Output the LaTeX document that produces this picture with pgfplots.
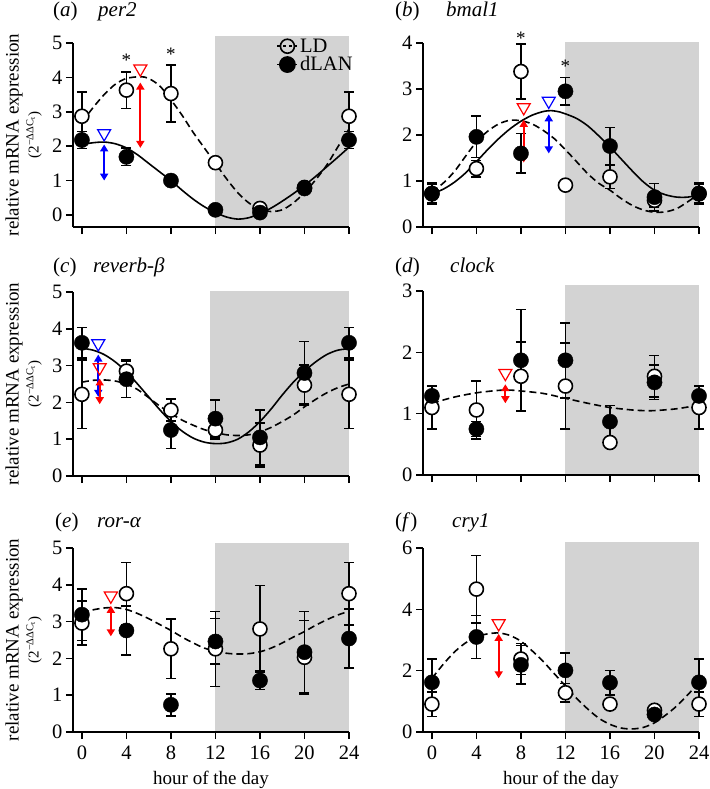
\documentclass[border=0pt]{standalone}
\usepackage{fontspec}
\setmainfont{Liberation Serif}
\usepackage{pgfplots}
\usepackage{pgfplotstable}
\pgfplotsset{compat=1.18}
\usetikzlibrary{arrows.meta}
\definecolor{shade}{RGB}{211,211,211}

\pgfplotstableread{
x ld lde dl dle
0 2.87 0.70 2.18 0.25
4 3.63 0.53 1.69 0.25
8 3.53 0.83 1.00 0.08
12 1.52 0.10 0.15 0.05
16 0.19 0.08 0.07 0.05
20 0.80 0.10 0.77 0.10
24 2.87 0.70 2.18 0.25
}\tA
\pgfplotstableread{
x ld lde dl dle
0 0.72 0.20 0.73 0.23
4 1.27 0.18 1.96 0.45
8 3.38 0.60 1.60 0.43
12 0.91 0.05 2.95 0.30
16 1.09 0.25 1.76 0.40
20 0.58 0.15 0.65 0.30
24 0.72 0.20 0.73 0.23
}\tB
\pgfplotstableread{
x ld lde dl dle
0 2.22 0.93 3.62 0.42
4 2.85 0.30 2.63 0.50
8 1.79 0.30 1.25 0.50
12 1.25 0.25 1.56 0.50
16 0.84 0.60 1.05 0.75
20 2.47 0.55 2.80 0.85
24 2.22 0.93 3.62 0.42
}\tC
\pgfplotstableread{
x ld lde dl dle
0 1.10 0.35 1.29 0.15
4 1.06 0.47 0.75 0.12
8 1.61 0.56 1.87 0.83
12 1.45 0.70 1.87 0.61
16 0.53 0.05 0.87 0.26
20 1.61 0.34 1.51 0.28
24 1.10 0.35 1.29 0.15
}\tD
\pgfplotstableread{
x ld lde dl dle
0 2.96 0.60 3.19 0.70
4 3.76 0.85 2.76 0.67
8 2.26 0.81 0.74 0.30
12 2.26 1.02 2.46 0.62
16 2.80 1.18 1.40 0.25
20 2.03 1.00 2.17 1.10
24 3.76 0.85 2.54 0.80
}\tE
\pgfplotstableread{
x ld lde dl dle
0 0.91 0.40 1.62 0.76
4 4.66 1.10 3.10 0.70
8 2.38 0.50 2.19 0.63
12 1.28 0.30 2.01 0.57
16 0.91 0.10 1.61 0.40
20 0.71 0.15 0.57 0.10
24 0.91 0.40 1.62 0.76
}\tF

\newcommand{\fs}{\fontsize{19}{22}\selectfont}
\newcommand{\ft}{\fontsize{20.5}{23}\selectfont}
\newcommand{\fh}{\fontsize{21}{24}\selectfont}
\pgfplotsset{
  panel/.style={
    scale only axis, width=276pt, height=184pt,
    axis lines*=left, axis on top,
    axis line style={line width=1.6pt, black},
    every tick/.style={line width=1.6pt, black},
    tick align=outside, major tick length=7pt,
    xmin=-0.8, xmax=24, xtick={0,4,...,24},
    xticklabels={},
    clip=false,
    tick label style={font=\ft},
    xticklabel style={yshift=-3pt},
    /pgf/number format/assume math mode=true,
  },
  ylab/.style={
    ylabel={relative mRNA expression\\[-2pt]{\fontsize{15}{16}\selectfont (2\textsuperscript{−ΔΔC\textsubscript{t}})}},
    ylabel style={align=center, font=\fs, at={(axis description cs:-0.179,0.5)}, anchor=center},
  },
  xlab/.style={
    xticklabels={0,4,8,12,16,20,24},
    xlabel={hour of the day},
    xlabel style={font=\fs, yshift=-5pt},
  },
  errb/.style={only marks, mark=none, forget plot,
    error bars/.cd, y dir=both, y explicit,
    error bar style={line width=1.6pt, black, solid},
    error mark options={line width=1.6pt, black, mark size=5pt, rotate=90}},
  ldm/.style={only marks, mark=*, mark size=7pt, forget plot,
    mark options={fill=white, draw=black, line width=1.6pt, solid}},
  dlm/.style={only marks, mark=*, mark size=7.6pt, forget plot,
    mark options={fill=black, draw=black, solid}},
  ldc/.style={smooth, line width=1.6pt, dash pattern=on 7pt off 4pt, black, mark=none, forget plot},
  dlc/.style={smooth, line width=1.6pt, black, mark=none, forget plot},
  rarr/.style={red, line width=1.8pt, mark=none, forget plot,
    {Triangle[length=7pt,width=8pt]}-{Triangle[length=7pt,width=8pt]}},
  barr/.style={blue, line width=1.8pt, mark=none, forget plot,
    {Triangle[length=7pt,width=8pt]}-{Triangle[length=7pt,width=8pt]}},
  rtri/.style={only marks, mark=triangle, mark size=7.5pt, forget plot,
    mark options={rotate=180, draw=red, line width=1.2pt}},
  btri/.style={only marks, mark=triangle, mark size=7.5pt, forget plot,
    mark options={rotate=180, draw=blue, line width=1.2pt}},
  shadeplot/.style={fill=shade, draw=none, mark=none, forget plot},
}

\begin{document}
\begin{tikzpicture}
\useasboundingbox (0,0) rectangle (709pt,-789pt);

% titles
\node[anchor=base west, font=\fh, inner sep=0] at (53pt,-17pt) {(\textit{a})};
\node[anchor=base west, font=\fh, inner sep=0] at (98pt,-17pt) {\textit{per2}};
\node[anchor=base west, font=\fh, inner sep=0] at (395pt,-17pt) {(\textit{b})};
\node[anchor=base west, font=\fh, inner sep=0] at (446pt,-17pt) {\textit{bmal1}};
\node[anchor=base west, font=\fh, inner sep=0] at (53pt,-272pt) {(\textit{c})};
\node[anchor=base west, font=\fh, inner sep=0] at (93pt,-272pt) {\textit{reverb-β}};
\node[anchor=base west, font=\fh, inner sep=0] at (395pt,-272pt) {(\textit{d})};
\node[anchor=base west, font=\fh, inner sep=0] at (450pt,-272pt) {\textit{clock}};
\node[anchor=base west, font=\fh, inner sep=0] at (55pt,-527pt) {(\textit{e})};
\node[anchor=base west, font=\fh, inner sep=0] at (97pt,-527pt) {\textit{ror-α}};
\node[anchor=base west, font=\fh, inner sep=0] at (395pt,-527pt) {(\textit{f})};
\node[anchor=base west, font=\fh, inner sep=0] at (452pt,-527pt) {\textit{cry1}};

% ---------- (a) per2
\begin{axis}[panel, ylab, at={(73pt,-227pt)}, anchor=south west,
  ymin=-0.35, ymax=5, ytick={0,1,...,5},
  legend style={at={(0.737,1.035)}, anchor=north west, draw=none, fill=none,
    font=\ft, row sep=-1pt, inner sep=0pt},
  legend cell align=left,
  legend image code/.code={\draw[mark repeat=2,mark phase=2,#1] plot coordinates {(0pt,0pt) (10pt,0pt) (20pt,0pt)};}]
\addplot[shadeplot] coordinates {(12,-0.35) (24,-0.35) (24,5.2) (12,5.2)} -- cycle;
\addplot[errb] table[x=x, y=ld, y error=lde] {\tA};
\addplot[errb] table[x=x, y=dl, y error=dle] {\tA};
\addplot[ldc] coordinates {(0,2.7) (1,3.12) (2,3.5) (3,3.8) (4,3.97) (5.25,4.02) (6,3.97) (7,3.75) (8,3.35) (9,2.9) (10,2.4) (11,1.95) (12,1.5) (13,1.05) (14,0.65) (15,0.35) (16,0.17) (17,0.1) (18,0.15) (19,0.35) (20,0.65) (21,1.02) (22,1.45) (23,1.98) (24,2.5)};
\addplot[dlc] coordinates {(0,2.05) (1,2.1) (2,2.12) (3,2.07) (4,1.95) (5,1.75) (6,1.5) (7,1.25) (8,1.0) (9,0.72) (10,0.46) (11,0.24) (12,0.07) (13,-0.06) (14,-0.12) (15,-0.08) (16,0.04) (17,0.2) (18,0.4) (19,0.62) (20,0.86) (21,1.12) (22,1.4) (23,1.68) (24,1.97)};
\addplot[ldm] table[x=x, y=ld] {\tA};
\addplot[dlm] table[x=x, y=dl] {\tA};
\addplot[rarr] coordinates {(5.25,1.95) (5.25,3.85)};
\addplot[barr] coordinates {(2,1.0) (2,2.05)};
\addplot[rtri] coordinates {(5.25,4.25)};
\addplot[btri] coordinates {(2,2.37)};
\node[font=\fs] at (axis cs:4,4.5) {*};
\node[font=\fs] at (axis cs:8,4.67) {*};
\addlegendimage{line width=1.6pt, dash pattern=on 3pt off 3pt, mark=o, mark size=7pt, mark options={solid, line width=1.6pt}}
\addlegendentry{LD}
\addlegendimage{line width=1.6pt, mark=*, mark size=7.6pt}
\addlegendentry{dLAN}
\end{axis}

% ---------- (b) bmal1
\begin{axis}[panel, at={(423pt,-227pt)}, anchor=south west,
  ymin=0, ymax=4, ytick={0,1,...,4}]
\addplot[shadeplot] coordinates {(12,0) (24,0) (24,4.02) (12,4.02)} -- cycle;
\addplot[errb] table[x=x, y=ld, y error=lde] {\tB};
\addplot[errb] table[x=x, y=dl, y error=dle] {\tB};
\addplot[ldc] coordinates {(0,0.76) (1,0.95) (2,1.2) (3,1.53) (4,1.85) (5,2.08) (6,2.24) (7,2.32) (8,2.31) (9,2.24) (10,2.1) (11,1.92) (12,1.68) (13,1.42) (14,1.16) (15,0.95) (16,0.8) (17,0.62) (18,0.47) (19,0.37) (20,0.32) (21,0.33) (22,0.4) (23,0.55) (24,0.72)};
\addplot[dlc] coordinates {(0,0.72) (1,0.82) (2,0.97) (3,1.17) (4,1.42) (5,1.68) (6,1.92) (7,2.13) (8,2.3) (9,2.43) (10,2.51) (10.7,2.53) (11.5,2.5) (12,2.46) (13,2.36) (14,2.2) (15,1.98) (16,1.74) (17,1.48) (18,1.22) (19,0.98) (20,0.8) (21,0.7) (22,0.65) (23,0.65) (24,0.7)};
\addplot[ldm] table[x=x, y=ld] {\tB};
\addplot[dlm] table[x=x, y=dl] {\tB};
\addplot[rarr] coordinates {(8.25,1.4) (8.25,2.33)};
\addplot[barr] coordinates {(10.5,1.6) (10.5,2.45)};
\addplot[rtri] coordinates {(8.25,2.6)};
\addplot[btri] coordinates {(10.5,2.74)};
\node[font=\fs] at (axis cs:8,4.1) {*};
\node[font=\fs] at (axis cs:12,3.5) {*};
\end{axis}

% ---------- (c) reverb-beta
\begin{axis}[panel, ylab, at={(73pt,-476pt)}, anchor=south west,
  ymin=0, ymax=5, ytick={0,1,...,5}]
\addplot[shadeplot] coordinates {(11.5,0) (24,0) (24,5.02) (11.5,5.02)} -- cycle;
\addplot[errb] table[x=x, y=ld, y error=lde] {\tC};
\addplot[errb] table[x=x, y=dl, y error=dle] {\tC};
\addplot[ldc] coordinates {(0,2.55) (1,2.6) (2,2.61) (3,2.58) (4,2.5) (5,2.35) (6,2.13) (7,1.9) (8,1.7) (9,1.52) (10,1.38) (11,1.26) (12,1.18) (13,1.12) (14,1.1) (15,1.12) (16,1.2) (17,1.32) (18,1.48) (19,1.66) (20,1.88) (21,2.08) (22,2.26) (23,2.4) (24,2.5)};
\addplot[dlc] coordinates {(0,3.47) (1,3.42) (2,3.3) (3,3.1) (4,2.83) (5,2.5) (6,2.15) (7,1.8) (8,1.48) (9,1.22) (10,1.03) (11,0.92) (12,0.88) (13,0.9) (14,1.0) (15,1.2) (16,1.48) (17,1.82) (18,2.2) (19,2.55) (20,2.85) (21,3.1) (22,3.3) (23,3.42) (24,3.46)};
\addplot[ldm] table[x=x, y=ld] {\tC};
\addplot[dlm] table[x=x, y=dl] {\tC};
\addplot[barr] coordinates {(1.47,2.15) (1.47,3.3)};
\addplot[rarr] coordinates {(1.6,1.95) (1.6,2.65)};
\addplot[btri] coordinates {(1.47,3.6)};
\addplot[rtri] coordinates {(1.6,2.95)};
\end{axis}

% ---------- (d) clock
\begin{axis}[panel, at={(423pt,-475pt)}, anchor=south west,
  ymin=0, ymax=3, ytick={0,1,2,3}]
\addplot[shadeplot] coordinates {(12,0) (24,0) (24,3.09) (12,3.09)} -- cycle;
\addplot[errb] table[x=x, y=ld, y error=lde] {\tD};
\addplot[errb] table[x=x, y=dl, y error=dle] {\tD};
\addplot[ldc] coordinates {(0,1.17) (2,1.27) (4,1.34) (6,1.38) (7,1.385) (8,1.37) (10,1.33) (12,1.25) (14,1.17) (16,1.1) (18,1.06) (19,1.05) (20,1.05) (22,1.08) (24,1.14)};
\addplot[ldm] table[x=x, y=ld] {\tD};
\addplot[dlm] table[x=x, y=dl] {\tD};
\addplot[rarr] coordinates {(6.6,1.17) (6.6,1.48)};
\addplot[rtri] coordinates {(6.6,1.66)};
\end{axis}

% ---------- (e) ror-alpha
\begin{axis}[panel, ylab, xlab, at={(73pt,-732pt)}, anchor=south west,
  ymin=0, ymax=5, ytick={0,1,...,5}]
\addplot[shadeplot] coordinates {(12,0) (24,0) (24,5.14) (12,5.14)} -- cycle;
\addplot[errb] table[x=x, y=ld, y error=lde] {\tE};
\addplot[errb] table[x=x, y=dl, y error=dle] {\tE};
\addplot[ldc] coordinates {(0,3.25) (1,3.32) (2,3.37) (3,3.38) (4,3.33) (5,3.22) (6,3.08) (7,2.92) (8,2.76) (9,2.58) (10,2.42) (11,2.28) (12,2.2) (13,2.14) (14,2.12) (15,2.13) (16,2.18) (17,2.28) (18,2.42) (19,2.58) (20,2.73) (21,2.9) (22,3.05) (23,3.18) (24,3.28)};
\addplot[ldm] table[x=x, y=ld] {\tE};
\addplot[dlm] table[x=x, y=dl] {\tE};
\addplot[rarr] coordinates {(2.6,2.6) (2.6,3.43)};
\addplot[rtri] coordinates {(2.6,3.7)};
\end{axis}

% ---------- (f) cry1
\begin{axis}[panel, xlab, at={(423pt,-732pt)}, anchor=south west,
  ymin=0, ymax=6, ytick={0,2,4,6}]
\addplot[shadeplot] coordinates {(12,0) (24,0) (24,6.2) (12,6.2)} -- cycle;
\addplot[errb] table[x=x, y=ld, y error=lde] {\tF};
\addplot[errb] table[x=x, y=dl, y error=dle] {\tF};
\addplot[ldc] coordinates {(0,1.75) (1,2.2) (2,2.6) (3,2.9) (4,3.1) (5,3.2) (6,3.23) (7,3.15) (8,2.96) (9,2.65) (10,2.3) (11,1.9) (12,1.5) (13,1.1) (14,0.75) (15,0.45) (16,0.25) (17,0.13) (18,0.1) (19,0.15) (20,0.3) (21,0.55) (22,0.85) (23,1.22) (24,1.6)};
\addplot[ldm] table[x=x, y=ld] {\tF};
\addplot[dlm] table[x=x, y=dl] {\tF};
\addplot[rarr] coordinates {(6,1.75) (6,3.2)};
\addplot[rtri] coordinates {(6,3.54)};
\end{axis}
\end{tikzpicture}
\end{document}
